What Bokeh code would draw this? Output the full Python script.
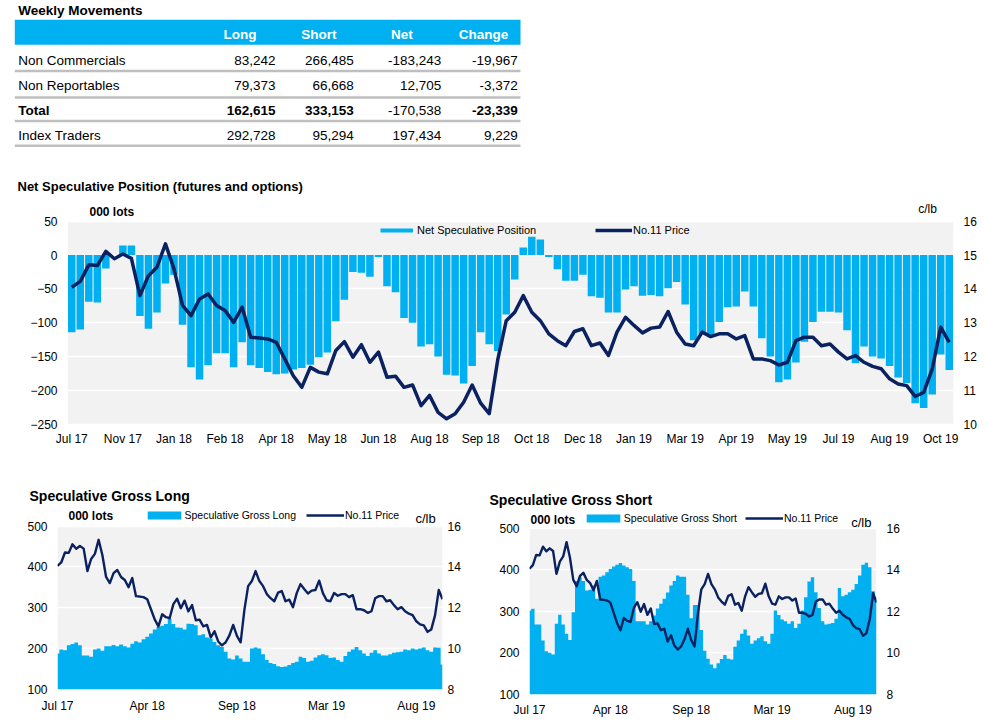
from bokeh.plotting import figure
from bokeh.models import (Range1d, LinearAxis, FixedTicker, Label, Legend, LegendItem,
                          ColumnDataSource)
from bokeh.layouts import column, row
from bokeh.core.properties import value
from bokeh.embed import file_html
from bokeh.resources import INLINE

# ---------------- data ----------------
row_labels = ["Non Commercials", "Non Reportables", "Total", "Index Traders"]
col_headers = ["Long", "Short", "Net", "Change"]
long_pos = [83242, 79373, 162615, 292728]
short_pos = [266485, 66668, 333153, 95294]
net_pos = [-183243, 12705, -170538, 197434]
change_pos = [-19967, -3372, -23339, 9229]

net_spec = [-114, -110, -69, -70, -20, 0, 14, 14, -90, -109,
            -85, -42, -29, -103, -166, -184, -163, -145, -145, -166,
            -129, -163, -167, -173, -176, -175, -169, -167, -162, -151,
            -144, -98, -66, -25, -26, -32, -3, -46, -55, -93,
            -100, -135, -132, -150, -177, -178, -190, -164, -114, -132,
            -142, -88, -36, 11, 27, 23, -3, -21, -38, -38,
            -29, -61, -63, -85, -85, -51, -46, -60, -59, -61,
            -49, -40, -73, -126, -117, -121, -99, -77, -76, -54,
            -76, -123, -150, -188, -184, -159, -128, -99, -84, -84,
            -85, -111, -160, -135, -150, -153, -164, -181, -189, -219,
            -226, -206, -147, -170]

price = [14.05, 14.22, 14.71, 14.69, 15.11, 14.89, 15.03, 14.90, 13.80, 14.39,
         14.64, 15.33, 14.59, 13.51, 13.21, 13.70, 13.85, 13.51, 13.36, 13.01,
         13.46, 12.57, 12.55, 12.52, 12.42, 11.93, 11.43, 11.09, 11.68, 11.54,
         11.49, 12.18, 12.44, 11.98, 12.35, 11.83, 12.13, 11.39, 11.42, 11.09,
         11.16, 10.55, 10.85, 10.35, 10.16, 10.31, 10.65, 11.16, 10.62, 10.31,
         11.90, 13.06, 13.31, 13.80, 13.31, 13.06, 12.67, 12.47, 12.32, 12.74,
         12.82, 12.32, 12.40, 12.03, 12.72, 13.16, 12.92, 12.70, 12.84, 12.87,
         13.33, 12.72, 12.37, 12.32, 12.72, 12.59, 12.67, 12.67, 12.52, 12.62,
         11.93, 11.93, 11.88, 11.75, 11.83, 12.47, 12.57, 12.57, 12.32, 12.37,
         12.13, 11.93, 12.03, 11.83, 11.71, 11.64, 11.34, 11.19, 11.14, 10.82,
         10.94, 11.63, 12.87, 12.42]

gross_long = [188, 198, 196, 208, 211, 215, 208, 183, 183, 180,
              198, 200, 195, 206, 206, 209, 206, 210, 206, 203,
              212, 218, 215, 223, 229, 237, 247, 253, 256, 260,
              273, 260, 252, 251, 247, 261, 260, 257, 233, 235,
              227, 225, 216, 208, 204, 192, 176, 173, 183, 176,
              168, 168, 200, 203, 200, 186, 172, 165, 162, 157,
              155, 156, 160, 165, 168, 180, 177, 168, 170, 178,
              184, 186, 184, 177, 178, 172, 168, 182, 192, 198,
              204, 196, 188, 182, 190, 196, 188, 183, 183, 186,
              190, 191, 192, 198, 196, 200, 198, 200, 203, 196,
              192, 203, 202, 161]

gross_short = [302, 306, 268, 268, 230, 204, 200, 196, 270, 292,
               268, 246, 231, 298, 373, 382, 373, 350, 352, 362,
               330, 383, 386, 394, 402, 408, 412, 416, 410, 406,
               402, 373, 276, 276, 276, 268, 276, 290, 307, 318,
               330, 345, 362, 373, 386, 383, 383, 340, 283, 315,
               315, 255, 205, 186, 172, 163, 175, 185, 195, 186,
               184, 215, 230, 246, 256, 242, 222, 230, 235, 240,
               228, 222, 246, 302, 291, 280, 276, 270, 276, 260,
               270, 302, 334, 372, 382, 346, 308, 276, 268, 270,
               272, 282, 356, 336, 340, 346, 352, 366, 386, 412,
               417, 406, 348, 334]

top_tick_labels = ["Jul 17", "Nov 17", "Jan 18", "Feb 18", "Apr 18", "May 18",
                   "Jun 18", "Aug 18", "Sep 18", "Oct 18", "Dec 18", "Jan 19",
                   "Mar 19", "Apr 19", "May 19", "Jul 19", "Aug 19", "Oct 19"]
bottom_tick_labels = ["Jul 17", "Apr 18", "Sep 18", "Mar 19", "Aug 19"]

weeks = list(range(1, len(net_spec) + 1))
N = len(weeks)
NAN = float("nan")

# ---------------- style ----------------
FONT = "Liberation Sans"
CYAN = "#00B0F0"
NAVY = "#0B2260"
BG = "#F2F2F2"


def style_axis(ax, size, standoff):
    ax.axis_line_color = None
    ax.major_tick_line_color = None
    ax.minor_tick_line_color = None
    ax.major_tick_in = 0
    ax.major_tick_out = 0
    ax.major_label_text_font = FONT
    ax.major_label_text_font_size = size
    ax.major_label_text_color = "black"
    ax.major_label_standoff = standoff


def add_legend(p, label, renderer, x, y, size, gw, gh, standoff):
    # (x, y): bottom-left corner of the legend, in px from the frame's bottom-left
    lg = Legend(items=[LegendItem(label=label, renderers=[renderer])],
                location=(x, y), orientation="horizontal", padding=0, margin=0,
                border_line_color=None, background_fill_alpha=0,
                glyph_width=gw, glyph_height=gh, label_height=gh,
                label_standoff=standoff, label_text_font=FONT,
                label_text_font_size=size, label_text_color="black")
    p.add_layout(lg)


def set_title(p, text, size, offset):
    p.title.text = text
    p.title.text_font = FONT
    p.title.text_font_size = size
    p.title.text_font_style = "bold"
    p.title.text_color = "black"
    p.title.align = "left"
    p.title.offset = offset
    p.title.standoff = 0
    p.title.vertical_align = "middle"


class Geo:
    """maps page pixels to data coordinates of a figure frame"""
    def __init__(self, fl, fr, ft, fb, x0, x1, y0, ybot_px, ytop_px, y1):
        self.fl, self.fr, self.ft, self.fb = fl, fr, ft, fb
        self.x0, self.x1 = x0, x1
        self.kx = (fr - fl) / (x1 - x0)
        self.ky = (ybot_px - ytop_px) / (y1 - y0)   # px per unit
        self.y0, self.ybot_px = y0, ybot_px

    def x(self, px):
        return self.x0 + (px - self.fl) / self.kx

    def y(self, py):
        return self.y0 + (self.ybot_px - py) / self.ky

    def yrange(self):
        return self.y(self.fb), self.y(self.ft)


def add_text(p, g, text, px, py, size, bold=False):
    p.add_layout(Label(x=g.x(px), y=g.y(py), text=text, text_font=FONT,
                       text_font_size=size, text_font_style="bold" if bold else "normal",
                       text_color="black", text_align="left", text_baseline="middle"))


# ---------------- table ----------------
tbl = figure(width=540, height=160, x_range=Range1d(0, 540), y_range=Range1d(160, 0),
             x_axis_location=None, y_axis_location=None, toolbar_location=None,
             output_backend="svg", min_border=0, outline_line_color=None)
tbl.grid.visible = False
tbl.quad(left=14.3, right=520, top=[19.3], bottom=[44.3], fill_color=CYAN, line_color=None)
sep_y = [70.5, 97, 120.5, 145.3]
tbl.quad(left=14.3, right=520, top=[s - 1.3 for s in sep_y], bottom=[s + 1.3 for s in sep_y],
         fill_color="#BFBFBF", line_color=None)
tbl.text(x=[17.7], y=[9.5], text=["Weekly Movements"], text_font=value(FONT),
         text_font_size="13.5px", text_font_style="bold", text_baseline="middle",
         text_color="black")
tbl.text(x=[256, 336, 412.3, 507.7], y=[33.5] * 4, text=col_headers, text_font=value(FONT),
         text_font_size="13.5px", text_font_style="bold", text_align="right",
         text_baseline="middle", text_color="white")

row_y = [59.5, 85, 110, 135]
col_x = [275, 353.3, 440.7, 517.3]
xs, ys, ts, st = [], [], [], []
for r, lab in enumerate(row_labels):
    xs.append(17.7); ys.append(row_y[r]); ts.append(lab)
    st.append("bold" if lab == "Total" else "normal")
cols = [long_pos, short_pos, net_pos, change_pos]
nx, ny, nt, ns = [], [], [], []
for r in range(len(row_labels)):
    for c, vals in enumerate(cols):
        nx.append(col_x[c]); ny.append(row_y[r]); nt.append(f"{vals[r]:,}")
        ns.append("bold" if (row_labels[r] == "Total" and c != 2) else "normal")
tbl.text(x="x", y="y", text="t", text_font_style="s",
         source=ColumnDataSource(dict(x=xs, y=ys, t=ts, s=st)),
         text_font=value(FONT), text_font_size="13.5px", text_baseline="middle",
         text_color="black")
tbl.text(x="x", y="y", text="t", text_font_style="s",
         source=ColumnDataSource(dict(x=nx, y=ny, t=nt, s=ns)),
         text_font=value(FONT), text_font_size="13.5px", text_baseline="middle",
         text_align="right", text_color="black")

# ---------------- top chart ----------------
# page geometry: figure spans y 160..455, frame x 67..953, y 194..424
g = Geo(67, 953, 194, 424, 0.5, N + 0.5, -250, 423.7, 220.7, 50)
ylo, yhi = g.yrange()
top = figure(width=985, height=295, x_range=Range1d(0.5, N + 0.5),
             y_range=Range1d(ylo, yhi), output_backend="svg", toolbar_location=None,
             min_border_left=67, min_border_right=32, min_border_top=34, min_border_bottom=31,
             background_fill_color="white", outline_line_color=None, border_fill_color="white")
top.extra_y_ranges = {"price": Range1d(15 + ylo / 50, 15 + yhi / 50)}
set_title(top, "Net Speculative Position (futures and options)", "13px", 18 - 67 - 1)
bgq = top.quad(left=0.5, right=N + 0.5, bottom=-250, top=50, fill_color=BG, line_color=None)
bgq.level = "image"
top.xgrid.grid_line_color = None
top.ygrid.grid_line_color = "white"
top.ygrid.grid_line_width = 1.5
top.yaxis.ticker = FixedTicker(ticks=list(range(-250, 51, 50)))
xt = list(range(1, N + 1, 6))
top.xaxis.ticker = FixedTicker(ticks=xt)
top.xaxis.major_label_overrides = {t: l for t, l in zip(xt, top_tick_labels)}
style_axis(top.xaxis[0], "12px", 7)
style_axis(top.yaxis[0], "12px", 10)
rax = LinearAxis(y_range_name="price", ticker=FixedTicker(ticks=list(range(10, 17))))
style_axis(rax, "12px", 10)
top.add_layout(rax, "right")

bars = top.vbar(x=weeks, top=net_spec, bottom=0, width=0.88, fill_color=CYAN, line_color=None)
pl = top.line(x=weeks, y=price, y_range_name="price", line_color=NAVY, line_width=3.5,
              line_join="round")
leg_net = top.line(x=[NAN, NAN], y=[NAN, NAN], line_color=CYAN, line_width=4)
add_legend(top, "Net Speculative Position", leg_net, 380 - 67, 424 - 236, "11px", 33, 12, 4)
add_legend(top, "No.11 Price", pl, 595 - 67, 424 - 236, "11px", 37, 12, 1)
add_text(top, g, "000 lots", 89, 211, "12px", True)
add_text(top, g, "c/lb", 917.7, 208.3, "12px")


# ---------------- bottom charts ----------------
FIG_H = 265


def gross_chart(title, series, label, width, fig_left, frame, yref, stand, leg, pos):
    fl, fr, ft, fb = frame
    gg = Geo(fl, fr, ft, fb, 1, N, 100, yref[0], yref[1], 500)
    lo, hi = gg.yrange()
    lo = min(lo, 100) - 0.2
    p = figure(width=width, height=FIG_H, x_range=Range1d(1, N), y_range=Range1d(lo, hi),
               output_backend="svg", toolbar_location=None,
               min_border_left=fl - fig_left, min_border_right=fig_left + width - fr,
               min_border_top=ft - 455, min_border_bottom=455 + FIG_H - fb,
               background_fill_color="white", outline_line_color=None)
    p.extra_y_ranges = {"price": Range1d(8 + (lo - 100) / 50, 8 + (hi - 100) / 50)}
    set_title(p, title, "14px", pos[0] - fl - 1)
    q = p.quad(left=1, right=N, bottom=100, top=500, fill_color=BG, line_color=None)
    q.level = "image"
    p.xgrid.grid_line_color = None
    p.ygrid.grid_line_color = "white"
    p.ygrid.grid_line_width = 1.5
    p.yaxis.ticker = FixedTicker(ticks=[100, 200, 300, 400, 500])
    bt = list(range(1, N + 1, 24))
    p.xaxis.ticker = FixedTicker(ticks=bt)
    p.xaxis.major_label_overrides = {t: l for t, l in zip(bt, bottom_tick_labels)}
    style_axis(p.xaxis[0], "12px", stand[2])
    style_axis(p.yaxis[0], "12px", stand[0])
    ax = LinearAxis(y_range_name="price", ticker=FixedTicker(ticks=[8, 10, 12, 14, 16]))
    style_axis(ax, "12px", stand[1])
    p.add_layout(ax, "right")
    p.varea_step(x=weeks, y1=100, y2=series, step_mode="center", fill_color=CYAN)
    ln = p.line(x=weeks, y=price, y_range_name="price", line_color=NAVY, line_width=2.4,
                line_join="round")
    box = p.vbar(x=[NAN], top=[NAN], bottom=[NAN], width=1, fill_color=CYAN, line_color=None)
    add_legend(p, label, box, leg[0] - 4.2 - fl, fb - (leg[1] + 5), "10.5px", 42, 10, 0)
    add_legend(p, "No.11 Price", ln, leg[2] - fl, fb - (leg[1] + 5), "10.5px", 38, 10, 1)
    add_text(p, gg, "000 lots", pos[2], pos[3], "12px", True)
    add_text(p, gg, "c/lb", pos[4], pos[5], "13px")
    return p


bl = gross_chart("Speculative Gross Long", gross_long, "Speculative Gross Long", 470, 0,
                 (57, 442, 504, 689), (689.3, 525.7), (10, 5, 9),
                 (146.7, 516, 306), (30, 496, 68, 516, 415, 518.3))
br = gross_chart("Speculative Gross Short", gross_short, "Speculative Gross Short", 515, 470,
                 (529, 876, 508, 694), (694, 527.7), (10, 10, 8),
                 (586, 519.3, 745), (490, 500, 530, 519.3, 850.7, 521.7))

layout = column(row(tbl), row(top), row(column(bl), column(br)))
open("out.html", "w").write(file_html(layout, INLINE))
